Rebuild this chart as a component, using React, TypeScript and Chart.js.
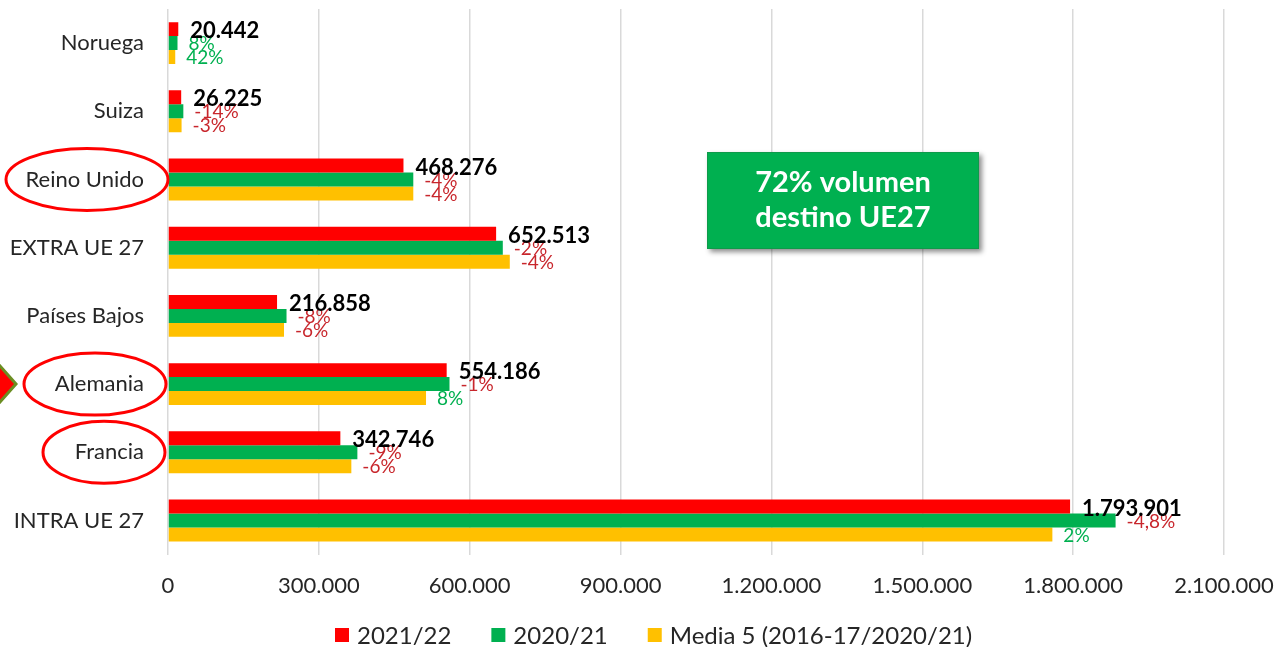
import React, { useEffect, useRef } from 'react';
import { Chart, registerables } from 'chart.js';

Chart.register(...registerables);

// ---- Data ----
const categories = ['Noruega', 'Suiza', 'Reino Unido', 'EXTRA UE 27', 'Países Bajos', 'Alemania', 'Francia', 'INTRA UE 27'];
const values2122 = [20442, 26225, 468276, 652513, 216858, 554186, 342746, 1793901];
const values2021 = [18900, 30500, 487800, 665800, 235700, 559800, 376600, 1884400];
const valuesMedia = [14400, 27000, 487800, 679700, 230700, 513100, 364600, 1758700];
const pctVs2021 = [8, -14, -4, -2, -8, -1, -9, -4.8];
const pctVsMedia = [42, -3, -4, -4, -6, 8, -6, 2];
const seriesNames = ['2021/22', '2020/21', 'Media 5 (2016-17/2020/21)'];
const xMax = 2100000;
const xStep = 300000;
const highlighted = ['Reino Unido', 'Alemania', 'Francia'];
const arrowAt = 'Alemania';
const noteLines = ['72% volumen', 'destino UE27'];

// ---- Styles ----
const RED = '#FF0000';
const GREEN = '#00B050';
const YELLOW = '#FFC000';
const NEG_TXT = '#C8262C';
const POS_TXT = '#00B050';
const FONT = 'Lato, "Open Sans", sans-serif';
const TXT = '#262626';

const fmtThousands = (n: number) => String(Math.round(n)).replace(/\B(?=(\d{3})+(?!\d))/g, '.');
const fmtPct = (p: number) => String(p).replace('.', ',') + '%';

const ellipseSpecs: Record<string, { cx: number; rx: number; ry: number }> = {
  'Reino Unido': { cx: 87, rx: 81, ry: 31 },
  'Alemania': { cx: 95, rx: 71, ry: 31 },
  'Francia': { cx: 104, rx: 61, ry: 31 },
};

export default function App() {
  const ref = useRef<HTMLCanvasElement>(null);

  useEffect(() => {
    const canvas = ref.current;
    if (!canvas) return;

    const labelPlugin = {
      id: 'barLabels',
      afterDatasetsDraw(chart: any) {
        const ctx = chart.ctx as CanvasRenderingContext2D;
        ctx.save();
        ctx.textBaseline = 'middle';
        ctx.textAlign = 'left';
        const m0 = chart.getDatasetMeta(0);
        const m1 = chart.getDatasetMeta(1);
        const m2 = chart.getDatasetMeta(2);
        // percent labels
        ctx.font = `19px ${FONT}`;
        m1.data.forEach((bar: any, i: number) => {
          const p = pctVs2021[i];
          ctx.fillStyle = p < 0 ? NEG_TXT : POS_TXT;
          ctx.fillText(fmtPct(p), bar.x + 11, bar.y + 1);
        });
        m2.data.forEach((bar: any, i: number) => {
          const p = pctVsMedia[i];
          ctx.fillStyle = p < 0 ? NEG_TXT : POS_TXT;
          ctx.fillText(fmtPct(p), bar.x + 11, bar.y + 1);
        });
        // value labels
        ctx.font = `bold 22px ${FONT}`;
        ctx.fillStyle = '#000000';
        m0.data.forEach((bar: any, i: number) => {
          ctx.fillText(fmtThousands(values2122[i]), bar.x + 12, bar.y + 2);
        });

        // annotation box
        const bx = 707, by = 152, bw = 272, bh = 97;
        ctx.save();
        ctx.shadowColor = 'rgba(0,0,0,0.45)';
        ctx.shadowBlur = 5;
        ctx.shadowOffsetX = 3;
        ctx.shadowOffsetY = 3;
        ctx.fillStyle = GREEN;
        ctx.fillRect(bx, by, bw, bh);
        ctx.restore();
        ctx.strokeStyle = '#0E9A4A';
        ctx.lineWidth = 1;
        ctx.strokeRect(bx + 0.5, by + 0.5, bw - 1, bh - 1);
        ctx.fillStyle = '#FFFFFF';
        ctx.font = `bold 29px ${FONT}`;
        ctx.textAlign = 'center';
        ctx.fillText(noteLines[0], bx + bw / 2, by + 31);
        ctx.fillText(noteLines[1], bx + bw / 2, by + 66);
        ctx.restore();
      },
      afterDraw(chart: any) {
        const ctx = chart.ctx as CanvasRenderingContext2D;
        const yScale = chart.scales.y;
        ctx.save();
        // ellipses
        ctx.strokeStyle = '#FF0000';
        ctx.lineWidth = 3;
        highlighted.forEach((name) => {
          const idx = categories.indexOf(name);
          const spec = ellipseSpecs[name];
          const cy = yScale.getPixelForValue(idx);
          ctx.beginPath();
          ctx.ellipse(spec.cx, cy, spec.rx, spec.ry, 0, 0, Math.PI * 2);
          ctx.stroke();
        });
        // arrow
        const ay = yScale.getPixelForValue(categories.indexOf(arrowAt));
        ctx.beginPath();
        ctx.moveTo(16, ay);
        ctx.lineTo(-8, ay - 27);
        ctx.lineTo(-8, ay + 27);
        ctx.closePath();
        ctx.fillStyle = '#FF0000';
        ctx.fill();
        ctx.strokeStyle = '#6B8E23';
        ctx.lineWidth = 3;
        ctx.stroke();

        // legend
        const colors = [RED, GREEN, YELLOW];
        ctx.font = `24px ${FONT}`;
        ctx.textBaseline = 'middle';
        ctx.textAlign = 'left';
        const ly = 635;
        let x = 335;
        seriesNames.forEach((name, i) => {
          ctx.fillStyle = colors[i];
          ctx.fillRect(x, ly - 7, 14, 14);
          ctx.fillStyle = TXT;
          ctx.fillText(name, x + 22, ly + 1);
          x += 22 + ctx.measureText(name).width + 40;
        });
        ctx.restore();
      },
    };

    const chart = new Chart(canvas, {
      type: 'bar',
      data: {
        labels: categories,
        datasets: [
          { label: seriesNames[0], data: values2122, backgroundColor: RED },
          { label: seriesNames[1], data: values2021, backgroundColor: GREEN },
          { label: seriesNames[2], data: valuesMedia, backgroundColor: YELLOW },
        ],
      },
      options: {
        indexAxis: 'y',
        responsive: false,
        animation: false,
        datasets: { bar: { barPercentage: 1, categoryPercentage: 0.615 } },
        layout: { padding: { left: 0, right: 55, top: 9, bottom: 30 } },
        scales: {
          x: {
            min: 0,
            max: xMax,
            ticks: {
              stepSize: xStep,
              maxRotation: 0,
              callback: (v: any) => fmtThousands(Number(v)),
              font: { family: FONT, size: 22 },
              color: TXT,
              padding: 18,
            },
            grid: { color: '#D9D9D9', lineWidth: 1.5, drawTicks: false },
            border: { display: false },
            afterFit: (s: any) => {
              s.paddingLeft = 0;
              s.paddingRight = 0;
            },
          },
          y: {
            ticks: { font: { family: FONT, size: 22 }, color: TXT, padding: 24 },
            grid: { display: false, drawTicks: false },
            border: { display: false },
            afterFit: (s: any) => {
              s.width = 168;
              s.paddingTop = 0;
              s.paddingBottom = 0;
            },
          },
        },
        plugins: {
          legend: { display: false },
          tooltip: { enabled: false },
        },
      },
      plugins: [labelPlugin],
    } as any);

    return () => chart.destroy();
  }, []);

  return (
    <div style={{ position: 'absolute', left: 0, top: 0, width: 1279, height: 647, background: '#ffffff' }}>
      <canvas ref={ref} width={1279} height={647} style={{ display: 'block' }} />
    </div>
  );
}
